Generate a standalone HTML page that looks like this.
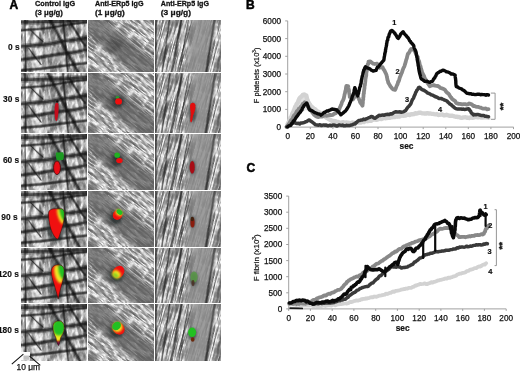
<!DOCTYPE html>
<html><head><meta charset="utf-8"><style>
html,body{margin:0;padding:0;background:#fff;width:520px;height:371px;overflow:hidden}
svg{display:block}
text{font-family:'Liberation Sans',Arial,sans-serif}
.tk{font-size:8.2px;fill:#111;stroke:#111;stroke-width:0.25px}
.sec{font-size:8.4px;font-weight:bold;fill:#111;stroke:#111;stroke-width:0.2px}
.yl{font-size:8px;fill:#111;stroke:#111;stroke-width:0.2px}
.cl{font-size:7.4px;font-weight:bold;fill:#111;stroke:#111;stroke-width:0.2px}
.st{font-size:9.5px;font-weight:bold;fill:#111;stroke:#111;stroke-width:0.3px}
.big{font-size:12px;font-weight:bold;fill:#000;stroke:#000;stroke-width:0.5px}
.hd{font-size:8px;font-weight:bold;fill:#111;stroke:#111;stroke-width:0.3px}
.rl{font-size:8.4px;font-weight:bold;fill:#111;stroke:#111;stroke-width:0.15px}
.sb{font-size:8.4px;fill:#111;stroke:#111;stroke-width:0.25px}
</style></head><body>
<svg width="520" height="371" viewBox="0 0 520 371">
<defs><filter id="f1a" x="-20" y="-20" width="110" height="110" filterUnits="userSpaceOnUse" color-interpolation-filters="sRGB">
  <feTurbulence type="turbulence" baseFrequency="0.16 0.05" numOctaves="3" seed="7" result="n"/>
  <feColorMatrix in="n" type="matrix" values="1 0 0 0 0  1 0 0 0 0  1 0 0 0 0  0 0 0 0 1" result="g"/>
  <feComponentTransfer in="g"><feFuncR type="table" tableValues="1 1 0.86 0.64 0.47 0.37 0.3 0.26 0.22 0.2 0.2"/><feFuncG type="table" tableValues="1 1 0.86 0.64 0.47 0.37 0.3 0.26 0.22 0.2 0.2"/><feFuncB type="table" tableValues="1 1 0.86 0.64 0.47 0.37 0.3 0.26 0.22 0.2 0.2"/></feComponentTransfer>
</filter><filter id="f1b" x="-20" y="-20" width="110" height="110" filterUnits="userSpaceOnUse" color-interpolation-filters="sRGB">
  <feTurbulence type="turbulence" baseFrequency="0.16 0.05" numOctaves="3" seed="21" result="n"/>
  <feColorMatrix in="n" type="matrix" values="1 0 0 0 0  1 0 0 0 0  1 0 0 0 0  0 0 0 0 1" result="g"/>
  <feComponentTransfer in="g"><feFuncR type="table" tableValues="1 1 0.86 0.64 0.47 0.37 0.3 0.26 0.22 0.2 0.2"/><feFuncG type="table" tableValues="1 1 0.86 0.64 0.47 0.37 0.3 0.26 0.22 0.2 0.2"/><feFuncB type="table" tableValues="1 1 0.86 0.64 0.47 0.37 0.3 0.26 0.22 0.2 0.2"/></feComponentTransfer>
</filter><filter id="f2" x="-20" y="-20" width="110" height="110" filterUnits="userSpaceOnUse" color-interpolation-filters="sRGB">
  <feTurbulence type="turbulence" baseFrequency="0.06 0.38" numOctaves="3" seed="3" result="n"/>
  <feColorMatrix in="n" type="matrix" values="1 0 0 0 0  1 0 0 0 0  1 0 0 0 0  0 0 0 0 1" result="g"/>
  <feComponentTransfer in="g"><feFuncR type="table" tableValues="1 0.95 0.8 0.64 0.53 0.46 0.41 0.37 0.34 0.3 0.3"/><feFuncG type="table" tableValues="1 0.95 0.8 0.64 0.53 0.46 0.41 0.37 0.34 0.3 0.3"/><feFuncB type="table" tableValues="1 0.95 0.8 0.64 0.53 0.46 0.41 0.37 0.34 0.3 0.3"/></feComponentTransfer>
</filter><filter id="f3" x="-20" y="-20" width="110" height="110" filterUnits="userSpaceOnUse" color-interpolation-filters="sRGB">
  <feTurbulence type="turbulence" baseFrequency="0.75 0.035" numOctaves="4" seed="11" result="n"/>
  <feColorMatrix in="n" type="matrix" values="1 0 0 0 0  1 0 0 0 0  1 0 0 0 0  0 0 0 0 1" result="g"/>
  <feComponentTransfer in="g"><feFuncR type="table" tableValues="1 0.97 0.84 0.68 0.55 0.46 0.39 0.33 0.28 0.25 0.25"/><feFuncG type="table" tableValues="1 0.97 0.84 0.68 0.55 0.46 0.39 0.33 0.28 0.25 0.25"/><feFuncB type="table" tableValues="1 0.97 0.84 0.68 0.55 0.46 0.39 0.33 0.28 0.25 0.25"/></feComponentTransfer>
</filter>
<filter id="bl1" x="-20" y="-20" width="110" height="110" filterUnits="userSpaceOnUse"><feGaussianBlur stdDeviation="2.2"/></filter>
<filter id="bl2" x="-20" y="-20" width="110" height="110" filterUnits="userSpaceOnUse"><feGaussianBlur stdDeviation="4"/></filter>
<filter id="bb" x="-50%" y="-50%" width="200%" height="200%"><feGaussianBlur stdDeviation="0.6"/></filter>

<g id="s1">
  <g transform="rotate(-8 33 30)"><rect x="-20" y="-20" width="110" height="110" filter="url(#f1a)"/></g>
  <g transform="rotate(24 33 30)" opacity="0.4"><rect x="-20" y="-20" width="110" height="110" filter="url(#f1b)"/></g>
  <ellipse cx="35" cy="28" rx="8" ry="22" fill="#888" opacity="0.35" filter="url(#bl2)"/>
  <g fill="none" stroke-linecap="round"><path d="M-2,3.5 C10,4.5 20,2.5 32,3 S55,1.5 70,1.5" stroke="#101010" stroke-width="5.85" opacity="0.32"/><path d="M-2,3.5 C10,4.5 20,2.5 32,3 S55,1.5 70,1.5" stroke="#101010" stroke-width="2.93" opacity="0.60"/><path d="M-2,12 C12,10.5 22,11 34,8.5 S55,5 70,3.5" stroke="#101010" stroke-width="3.34" opacity="0.32"/><path d="M-2,12 C12,10.5 22,11 34,8.5 S55,5 70,3.5" stroke="#101010" stroke-width="1.67" opacity="0.60"/><path d="M-2,28 C8,27.5 16,26.5 24,26 S40,22.5 48,22 S62,19.5 70,19" stroke="#101010" stroke-width="5.02" opacity="0.32"/><path d="M-2,28 C8,27.5 16,26.5 24,26 S40,22.5 48,22 S62,19.5 70,19" stroke="#101010" stroke-width="2.51" opacity="0.60"/><path d="M-2,41.5 C8,40 16,39.5 24,38 S40,35 48,34.5 S62,31.5 70,30.5" stroke="#101010" stroke-width="4.60" opacity="0.32"/><path d="M-2,41.5 C8,40 16,39.5 24,38 S40,35 48,34.5 S62,31.5 70,30.5" stroke="#101010" stroke-width="2.30" opacity="0.60"/><path d="M-2,52 C10,51 20,50.5 30,49 S52,46 70,44" stroke="#101010" stroke-width="3.76" opacity="0.32"/><path d="M-2,52 C10,51 20,50.5 30,49 S52,46 70,44" stroke="#101010" stroke-width="1.88" opacity="0.60"/><path d="M27,-2 C33,8 36,14 40,22 S48,38 54,48 C57,53 60,58 62,62" stroke="#101010" stroke-width="4.18" opacity="0.32"/><path d="M27,-2 C33,8 36,14 40,22 S48,38 54,48 C57,53 60,58 62,62" stroke="#101010" stroke-width="2.09" opacity="0.60"/><path d="M49,3 C52,9 56,14 58,18 S62,24 64,27" stroke="#101010" stroke-width="2.93" opacity="0.32"/><path d="M49,3 C52,9 56,14 58,18 S62,24 64,27" stroke="#101010" stroke-width="1.46" opacity="0.60"/><path d="M4,-2 C4,20 4.5,40 5,62" stroke="#101010" stroke-width="1.46" opacity="0.32"/><path d="M4,-2 C4,20 4.5,40 5,62" stroke="#101010" stroke-width="0.73" opacity="0.60"/><path d="M42,-2 C43,15 45,30 46,45 C46.5,52 47,56 48,62" stroke="#101010" stroke-width="2.51" opacity="0.32"/><path d="M42,-2 C43,15 45,30 46,45 C46.5,52 47,56 48,62" stroke="#101010" stroke-width="1.25" opacity="0.60"/><path d="M8,30 C12,36 16,41 20,46" stroke="#101010" stroke-width="1.88" opacity="0.32"/><path d="M8,30 C12,36 16,41 20,46" stroke="#101010" stroke-width="0.94" opacity="0.60"/><path d="M10,12 C14,16 18,20 22,23" stroke="#101010" stroke-width="1.88" opacity="0.32"/><path d="M10,12 C14,16 18,20 22,23" stroke="#101010" stroke-width="0.94" opacity="0.60"/></g>
</g>

<g id="s2">
  <g transform="rotate(38 33 30)"><rect x="-20" y="-20" width="110" height="110" filter="url(#f2)"/></g>
  <path d="M-8,-20 L72,46 L72,70 L60,68 L-8,9 Z" fill="#5e5e5e" opacity="0.7" filter="url(#bl1)"/>
  <ellipse cx="27" cy="27" rx="9" ry="6" fill="#2a2a2a" opacity="0.55" filter="url(#bl2)" transform="rotate(38 27 27)"/>
  <path d="M20,4 L64,40" stroke="#e8e8e8" stroke-width="0.9" opacity="0.55"/>
</g>

<g id="s3">
  <g transform="rotate(15 33 30)"><rect x="-20" y="-20" width="110" height="110" filter="url(#f3)"/></g>
  <path d="M38,-5 L60,-5 L51,65 L29,65 Z" fill="#8e8e8e" opacity="0.85" filter="url(#bl1)"/>
  <g fill="none" stroke-linecap="round"><path d="M15,62 L27,-2" stroke="#1a1a1a" stroke-width="3.37" opacity="0.27"/><path d="M15,62 L27,-2" stroke="#1a1a1a" stroke-width="1.68" opacity="0.51"/><path d="M6,62 L15,-2" stroke="#1a1a1a" stroke-width="2.24" opacity="0.27"/><path d="M6,62 L15,-2" stroke="#1a1a1a" stroke-width="1.12" opacity="0.51"/><path d="M23,62 L34,-2" stroke="#1a1a1a" stroke-width="1.87" opacity="0.27"/><path d="M23,62 L34,-2" stroke="#1a1a1a" stroke-width="0.94" opacity="0.51"/><path d="M50,62 L60,-2" stroke="#1a1a1a" stroke-width="3.37" opacity="0.27"/><path d="M50,62 L60,-2" stroke="#1a1a1a" stroke-width="1.68" opacity="0.51"/><path d="M0.8,-2 L0.8,62" stroke="#1a1a1a" stroke-width="3.37" opacity="0.27"/><path d="M0.8,-2 L0.8,62" stroke="#1a1a1a" stroke-width="1.68" opacity="0.51"/></g>
  <path d="M20,62 L31,-2" stroke="#f0f0f0" stroke-width="2.2" opacity="0.35"/>
</g>
</defs>
<rect width="520" height="371" fill="#fff"/>
<svg x="21" y="20" width="66" height="52" viewBox="0 1.5 66 52" overflow="hidden"><use href="#s1"/></svg>
<svg x="21" y="73" width="66" height="60" viewBox="0 -3 66 60" overflow="hidden"><use href="#s1"/></svg>
<svg x="21" y="134" width="66" height="56" viewBox="0 0 66 56" overflow="hidden"><use href="#s1"/></svg>
<svg x="21" y="191" width="66" height="56" viewBox="0 0 66 56" overflow="hidden"><use href="#s1"/></svg>
<svg x="21" y="248" width="66" height="55" viewBox="0 0 66 55" overflow="hidden"><use href="#s1"/></svg>
<svg x="21" y="304" width="66" height="57" viewBox="0 0 66 57" overflow="hidden"><use href="#s1"/></svg>
<svg x="88" y="20" width="66" height="52" viewBox="0 1.5 66 52" overflow="hidden"><use href="#s2"/></svg>
<svg x="88" y="73" width="66" height="60" viewBox="0 -3 66 60" overflow="hidden"><use href="#s2"/></svg>
<svg x="88" y="134" width="66" height="56" viewBox="0 0 66 56" overflow="hidden"><use href="#s2"/></svg>
<svg x="88" y="191" width="66" height="56" viewBox="0 0 66 56" overflow="hidden"><use href="#s2"/></svg>
<svg x="88" y="248" width="66" height="55" viewBox="0 0 66 55" overflow="hidden"><use href="#s2"/></svg>
<svg x="88" y="304" width="66" height="57" viewBox="0 0 66 57" overflow="hidden"><use href="#s2"/></svg>
<svg x="155" y="20" width="66" height="52" viewBox="0 1.5 66 52" overflow="hidden"><use href="#s3"/></svg>
<svg x="155" y="73" width="66" height="60" viewBox="0 -3 66 60" overflow="hidden"><use href="#s3"/></svg>
<svg x="155" y="134" width="66" height="56" viewBox="0 0 66 56" overflow="hidden"><use href="#s3"/></svg>
<svg x="155" y="191" width="66" height="56" viewBox="0 0 66 56" overflow="hidden"><use href="#s3"/></svg>
<svg x="155" y="248" width="66" height="55" viewBox="0 0 66 55" overflow="hidden"><use href="#s3"/></svg>
<svg x="155" y="304" width="66" height="57" viewBox="0 0 66 57" overflow="hidden"><use href="#s3"/></svg>

<defs>
<filter id="bs" x="-50%" y="-50%" width="200%" height="200%"><feGaussianBlur stdDeviation="1.6"/></filter>
<filter id="bm" x="-50%" y="-50%" width="200%" height="200%"><feGaussianBlur stdDeviation="1.1"/></filter>
</defs>
<!-- shadows -->
<g filter="url(#bs)" fill="#1c2828" opacity="0.62">
<ellipse cx="56.5" cy="111.5" rx="4" ry="10"/>
<ellipse cx="57.5" cy="162" rx="6" ry="12"/>
<ellipse cx="56" cy="224" rx="10" ry="17"/>
<ellipse cx="57.5" cy="280" rx="8" ry="19"/>
<ellipse cx="58" cy="332" rx="7" ry="13"/>
<ellipse cx="118.3" cy="101.5" rx="6" ry="6"/>
<ellipse cx="117" cy="160" rx="5" ry="6"/>
<ellipse cx="116" cy="218" rx="6" ry="6"/>
<ellipse cx="117" cy="275" rx="7" ry="7"/>
<ellipse cx="117" cy="331" rx="7" ry="7"/>
<ellipse cx="192.5" cy="112" rx="4" ry="10"/>
<ellipse cx="192.2" cy="167" rx="3.5" ry="7"/>
<ellipse cx="192.5" cy="222" rx="3" ry="6"/>
<ellipse cx="193.5" cy="279" rx="4" ry="7"/>
<ellipse cx="192.3" cy="334" rx="4.5" ry="6"/>
</g>
<clipPath id="cb90"><path d="M48.5,214 C48.5,210 51,209 55,208.8 L62,208.8 C64,209.5 64.6,212 64.3,216 C64,222 62,229 60,234 C59,237.5 58,239.5 57,239 C54.5,237.5 51.5,232 50,226 C49,222 48.5,218 48.5,214 Z"/></clipPath><g clip-path="url(#cb90)"><rect x="40" y="200" width="30" height="45" fill="#f01010"/>
<ellipse cx="60.6" cy="216" rx="2.6" ry="8.5" fill="#f0e820" transform="rotate(-18 60.6 216)" filter="url(#bm)"/>
<ellipse cx="63.4" cy="213.5" rx="3.2" ry="8" fill="#22c020" transform="rotate(-18 63.4 213.5)" filter="url(#bm)"/></g><path d="M48.5,214 C48.5,210 51,209 55,208.8 L62,208.8 C64,209.5 64.6,212 64.3,216 C64,222 62,229 60,234 C59,237.5 58,239.5 57,239 C54.5,237.5 51.5,232 50,226 C49,222 48.5,218 48.5,214 Z" fill="none" stroke="#2a0808" stroke-width="0.9" opacity="0.55"/>
<clipPath id="cb120"><path d="M51.3,272 C51.3,267 54,265 57.5,264.8 C61,264.6 64.2,266 64.2,271 C64.2,276 62.5,282 61,287 C60,291 59,295 58.2,299 C57.2,295 55.5,289 54,284 C52.5,279 51.3,275 51.3,272 Z"/></clipPath><g clip-path="url(#cb120)"><rect x="40" y="255" width="30" height="50" fill="#f01010"/>
<ellipse cx="58.6" cy="274" rx="4" ry="9.5" fill="#f0e820" transform="rotate(-15 58.6 274)" filter="url(#bm)"/>
<ellipse cx="62.6" cy="271.5" rx="3.8" ry="8.5" fill="#22c020" transform="rotate(-15 62.6 271.5)" filter="url(#bm)"/></g><path d="M51.3,272 C51.3,267 54,265 57.5,264.8 C61,264.6 64.2,266 64.2,271 C64.2,276 62.5,282 61,287 C60,291 59,295 58.2,299 C57.2,295 55.5,289 54,284 C52.5,279 51.3,275 51.3,272 Z" fill="none" stroke="#2a0808" stroke-width="0.9" opacity="0.55"/>
<clipPath id="cb180"><path d="M53,327 C53,322.5 56,321 59,321 C62.5,321 64.4,324 64.2,328.5 C64,332 62,335 60.5,338 C60,341 59.5,344 58.5,345.5 C57.5,344 56.5,341 56,338 C54.5,335 53,331 53,327 Z"/></clipPath><g clip-path="url(#cb180)"><rect x="40" y="315" width="30" height="35" fill="#c01818"/>
<rect x="40" y="315" width="30" height="26" fill="#f0e820" filter="url(#bm)"/>
<ellipse cx="59" cy="327.5" rx="6.5" ry="8" fill="#22c020" filter="url(#bm)"/>
<rect x="40" y="342" width="30" height="6" fill="#601050" filter="url(#bm)"/></g><path d="M53,327 C53,322.5 56,321 59,321 C62.5,321 64.4,324 64.2,328.5 C64,332 62,335 60.5,338 C60,341 59.5,344 58.5,345.5 C57.5,344 56.5,341 56,338 C54.5,335 53,331 53,327 Z" fill="none" stroke="#2a0808" stroke-width="0.9" opacity="0.55"/>
<g filter="url(#bb)">
<!-- col1 row2 30s -->
<path d="M55.3,104 C56.5,101.5 58.5,102 58.6,106 C58.8,110 58.3,116 57.2,120 C56.5,122 55.3,121 55,118 C54.5,113 54.3,107 55.3,104 Z" fill="#c40e1e"/>
<circle cx="57.2" cy="101.5" r="1.2" fill="#101010"/>
<!-- col1 row3 60s -->
<path d="M56,152.5 L63,152.2 C64.2,154 64.2,158 63,160 L57,160.5 C55.8,158 55.6,154 56,152.5 Z" fill="#1f9a22"/>
<ellipse cx="57" cy="167.8" rx="3.4" ry="6.8" fill="#e81018" stroke="#500808" stroke-width="0.8"/>
<!-- col2 row2 30s -->
<ellipse cx="117.4" cy="97.4" rx="1.8" ry="1.4" fill="#2a9a30"/>
<ellipse cx="118.6" cy="101.4" rx="3.4" ry="3.2" fill="#f01010"/>
<!-- col2 row3 60s -->
<ellipse cx="117.2" cy="155.2" rx="2.8" ry="2.6" fill="#20b020"/>
<ellipse cx="119.4" cy="160.6" rx="3.2" ry="2.6" fill="#f01010"/>
<!-- col2 row4 90s -->
<g transform="rotate(35 117.7 214.7)">
<ellipse cx="117.7" cy="214.9" rx="4.6" ry="5.2" fill="#f01010"/>
<ellipse cx="117.7" cy="212.3" rx="3.6" ry="2.8" fill="#f0e820" filter="url(#bm)"/>
<ellipse cx="117.7" cy="211.6" rx="3.2" ry="2.3" fill="#22c020"/>
</g>
<!-- col2 row5 120s -->
<g transform="rotate(-50 118.5 272)">
<ellipse cx="118.5" cy="272" rx="6.6" ry="5.4" fill="#f01010"/>
<ellipse cx="115.5" cy="272" rx="3.6" ry="4.4" fill="#f0e820" filter="url(#bm)"/>
<ellipse cx="114" cy="272" rx="1.8" ry="3.2" fill="#80d020" filter="url(#bm)"/>
</g>
<!-- col2 row6 180s -->
<g transform="rotate(-40 118.5 328.3)">
<ellipse cx="118.5" cy="328.3" rx="5.6" ry="6.8" fill="#f01010"/>
<ellipse cx="118.5" cy="326.8" rx="5" ry="5" fill="#f0e820" filter="url(#bm)"/>
<ellipse cx="118.5" cy="325.3" rx="4.8" ry="3.8" fill="#22c020"/>
</g>
<!-- col3 row2 30s -->
<path d="M190,106 C190,102 195.5,101.5 195.5,106 C195.5,110 194,113 193,116 C192.5,119 192,122.5 191,122.5 C189.5,121 190.5,117 190.8,114 C190.5,111 190,108.5 190,106 Z" fill="#e01010"/>
<!-- col3 row3 60s -->
<ellipse cx="192.2" cy="167.2" rx="2.5" ry="6.3" fill="#a80c14"/>
<!-- col3 row4 90s -->
<ellipse cx="192.5" cy="222.5" rx="2.1" ry="5" fill="#8a1c10"/>
<ellipse cx="192.3" cy="219" rx="1.6" ry="2.2" fill="#402010"/>
<!-- col3 row5 120s -->
<ellipse cx="194" cy="277" rx="3.6" ry="5.5" fill="#5a9a48" opacity="0.85"/>
<ellipse cx="193" cy="283" rx="1.5" ry="3" fill="#4a2a20" opacity="0.8"/>
<!-- col3 row6 180s -->
<ellipse cx="192.1" cy="332.3" rx="4" ry="4.8" fill="#22c020"/>
<ellipse cx="192.7" cy="339.5" rx="1.8" ry="2.2" fill="#6a2a10"/>
</g>

<text x="9.6" y="8.7" class="big">A</text>
<text x="246" y="9" class="big">B</text>
<text x="246.6" y="172" class="big">C</text>
<text x="35" y="5.8" class="hd" textLength="40.2" lengthAdjust="spacingAndGlyphs">Control IgG</text>
<text x="35" y="14.6" class="hd" textLength="27.9" lengthAdjust="spacingAndGlyphs">(3 μg/g)</text>
<text x="95" y="5.8" class="hd" textLength="48.5" lengthAdjust="spacingAndGlyphs">Anti-ERp5 IgG</text>
<text x="95" y="14.6" class="hd" textLength="29.7" lengthAdjust="spacingAndGlyphs">(1 μg/g)</text>
<text x="160.8" y="5.8" class="hd" textLength="48.2" lengthAdjust="spacingAndGlyphs">Anti-ERp5 IgG</text>
<text x="160.8" y="14.6" class="hd" textLength="30.2" lengthAdjust="spacingAndGlyphs">(3 μg/g)</text>
<text x="19.6" y="49.9" text-anchor="end" class="rl">0 s</text>
<text x="19.4" y="101.9" text-anchor="end" class="rl">30 s</text>
<text x="19.2" y="163.0" text-anchor="end" class="rl">60 s</text>
<text x="17.6" y="219.8" text-anchor="end" class="rl">90 s</text>
<text x="18.9" y="276.9" text-anchor="end" class="rl">120 s</text>
<text x="18.9" y="333.29999999999995" text-anchor="end" class="rl">180 s</text>
<rect x="21" y="352" width="9" height="8.6" fill="#fbfbfb"/><rect x="23.5" y="355.6" width="6" height="4.2" fill="#a8a8a8" opacity="0.7"/>
<path d="M11.8,364.2 L23.4,354.2 M29.5,356.2 L40.3,365.4" stroke="#111" stroke-width="1.1" fill="none"/>
<text x="16.5" y="369.6" class="sb">10 μm</text>
<line x1="287.7" y1="20.9" x2="287.7" y2="127.5" stroke="#a0a0a0" stroke-width="1"/>
<line x1="287.7" y1="127.1" x2="513.6" y2="127.1" stroke="#a0a0a0" stroke-width="1"/>
<line x1="285.2" y1="127.1" x2="287.7" y2="127.1" stroke="#a0a0a0" stroke-width="1"/>
<text x="281.0" y="130.0" text-anchor="end" class="tk">0</text>
<line x1="285.2" y1="109.4" x2="287.7" y2="109.4" stroke="#a0a0a0" stroke-width="1"/>
<text x="281.0" y="112.3" text-anchor="end" class="tk">1000</text>
<line x1="285.2" y1="91.7" x2="287.7" y2="91.7" stroke="#a0a0a0" stroke-width="1"/>
<text x="281.0" y="94.6" text-anchor="end" class="tk">2000</text>
<line x1="285.2" y1="74.0" x2="287.7" y2="74.0" stroke="#a0a0a0" stroke-width="1"/>
<text x="281.0" y="76.9" text-anchor="end" class="tk">3000</text>
<line x1="285.2" y1="56.3" x2="287.7" y2="56.3" stroke="#a0a0a0" stroke-width="1"/>
<text x="281.0" y="59.2" text-anchor="end" class="tk">4000</text>
<line x1="285.2" y1="38.6" x2="287.7" y2="38.6" stroke="#a0a0a0" stroke-width="1"/>
<text x="281.0" y="41.5" text-anchor="end" class="tk">5000</text>
<line x1="285.2" y1="20.9" x2="287.7" y2="20.9" stroke="#a0a0a0" stroke-width="1"/>
<text x="281.0" y="23.8" text-anchor="end" class="tk">6000</text>
<line x1="287.7" y1="127.1" x2="287.7" y2="129.1" stroke="#a0a0a0" stroke-width="1"/>
<text x="287.7" y="139.1" text-anchor="middle" class="tk">0</text>
<line x1="310.3" y1="127.1" x2="310.3" y2="129.1" stroke="#a0a0a0" stroke-width="1"/>
<text x="310.3" y="139.1" text-anchor="middle" class="tk">20</text>
<line x1="332.9" y1="127.1" x2="332.9" y2="129.1" stroke="#a0a0a0" stroke-width="1"/>
<text x="332.9" y="139.1" text-anchor="middle" class="tk">40</text>
<line x1="355.4" y1="127.1" x2="355.4" y2="129.1" stroke="#a0a0a0" stroke-width="1"/>
<text x="355.4" y="139.1" text-anchor="middle" class="tk">60</text>
<line x1="378.0" y1="127.1" x2="378.0" y2="129.1" stroke="#a0a0a0" stroke-width="1"/>
<text x="378.0" y="139.1" text-anchor="middle" class="tk">80</text>
<line x1="400.6" y1="127.1" x2="400.6" y2="129.1" stroke="#a0a0a0" stroke-width="1"/>
<text x="400.6" y="139.1" text-anchor="middle" class="tk">100</text>
<line x1="423.2" y1="127.1" x2="423.2" y2="129.1" stroke="#a0a0a0" stroke-width="1"/>
<text x="423.2" y="139.1" text-anchor="middle" class="tk">120</text>
<line x1="445.8" y1="127.1" x2="445.8" y2="129.1" stroke="#a0a0a0" stroke-width="1"/>
<text x="445.8" y="139.1" text-anchor="middle" class="tk">140</text>
<line x1="468.3" y1="127.1" x2="468.3" y2="129.1" stroke="#a0a0a0" stroke-width="1"/>
<text x="468.3" y="139.1" text-anchor="middle" class="tk">160</text>
<line x1="490.9" y1="127.1" x2="490.9" y2="129.1" stroke="#a0a0a0" stroke-width="1"/>
<text x="490.9" y="139.1" text-anchor="middle" class="tk">180</text>
<line x1="513.5" y1="127.1" x2="513.5" y2="129.1" stroke="#a0a0a0" stroke-width="1"/>
<text x="513.5" y="139.1" text-anchor="middle" class="tk">200</text>
<text x="406.5" y="148.8" text-anchor="middle" class="sec">sec</text>
<text transform="translate(256.0,75.4) rotate(-90)" x="0" y="2.8" text-anchor="middle" class="yl" textLength="55.5" lengthAdjust="spacingAndGlyphs">F platelets (x10<tspan dy="-2.5" font-size="5">3</tspan><tspan dy="2.5">)</tspan></text>
<polygon points="288,125 292,112 297,101 301,94 305,92 308,96 311,103 316,108 322,113 318,117 311,113 306,110 301,112 296,117 291,124" fill="#e2e2e2"/>
<polyline points="287.3,124.7 287.9,123.6 288.3,122.6 289.1,121.7 289.6,120.0 290.1,118.8 290.5,117.5 291.0,117.0 291.7,115.7 292.2,113.9 292.6,113.1 293.3,112.1 293.9,110.2 294.3,109.5 294.8,107.8 295.4,106.5 296.0,106.0 296.5,104.3 297.2,103.3 297.9,102.4 298.4,100.8 299.0,99.6 299.5,98.2 300.6,97.1 301.3,96.7 302.2,95.7 303.2,94.6 304.9,95.0 306.3,95.6 306.6,96.9 306.9,98.6 307.2,99.6 307.6,100.4 308.1,101.8 309.1,103.4 309.7,104.3 310.4,105.7 311.5,106.8 312.9,107.9 313.9,108.8 314.9,109.1 316.1,110.3 317.0,111.2 318.0,111.8 318.9,112.0 320.0,112.7 321.0,114.2 322.0,114.2 322.9,115.1 324.1,116.1 324.9,116.6 326.4,117.7 327.4,118.1 328.6,119.0 330.0,119.7 331.1,120.3 332.5,121.1 333.7,121.0 335.2,121.2 336.5,121.6 337.6,121.9 338.8,122.2 340.1,122.7 341.5,122.5 342.5,122.3 343.8,122.3 345.0,123.0 346.2,122.4 347.6,122.9 348.9,122.8 350.1,123.1 351.3,123.1 352.5,122.5 353.7,123.1 355.1,123.0 356.2,122.7 357.6,122.6 358.8,122.4 360.0,122.5 361.2,122.5 362.6,121.5 363.9,122.1 365.1,121.0 366.4,120.9 367.7,121.2 368.7,120.5 370.1,120.7 371.4,120.8 372.5,119.7 373.9,119.5 375.2,119.4 376.4,119.8 377.7,119.4 378.9,118.9 380.1,118.8 381.5,119.0 382.6,118.5 383.7,117.9 385.1,118.2 386.4,118.1 387.5,117.8 388.9,117.8 389.9,117.9 391.4,117.1 392.5,117.2 393.8,117.0 394.9,117.0 396.3,116.4 397.3,116.7 398.7,116.4 399.8,116.5 401.1,115.5 402.4,115.5 403.4,115.8 404.7,115.6 405.9,115.5 407.2,114.7 408.6,114.7 409.9,115.0 411.3,114.1 412.5,114.2 413.9,114.1 415.2,113.2 416.5,113.5 417.9,113.2 419.4,112.7 420.7,112.8 421.9,113.3 423.3,113.4 424.6,113.5 426.1,113.5 427.4,113.2 428.8,113.5 430.1,113.5 431.3,113.7 432.9,113.9 434.3,114.2 435.5,114.4 436.9,114.2 438.2,115.0 439.5,114.9 440.9,114.6 442.2,114.4 443.8,115.2 445.1,115.3 446.5,114.8 447.8,115.2 449.2,115.7 450.7,115.8 451.9,115.6 453.2,116.0 454.4,116.4 455.5,116.7 456.7,116.7 458.0,117.1 459.0,117.0 460.2,117.6 461.7,117.9 462.9,117.5 464.3,117.4 465.6,117.2 466.9,117.7 468.4,117.8 469.6,118.0 471.0,117.1 472.2,117.7 473.8,117.5 475.1,116.9 476.3,116.7 477.5,117.4 478.9,117.3 479.9,116.9 481.2,117.6 482.4,117.6 483.7,117.4 485.0,117.2 486.1,117.2 487.2,117.2 488.5,117.7" fill="none" stroke="#d2d2d2" stroke-width="4.4" stroke-linejoin="round" stroke-linecap="round"/>
<polyline points="286.4,127.0 287.6,126.1 288.8,124.5 289.8,124.2 291.0,123.4 292.4,123.3 293.6,123.0 294.7,122.4 296.0,123.3 297.2,123.5 298.4,123.2 299.7,124.0 300.7,123.0 302.1,122.9 303.3,122.8 304.5,122.4 305.6,121.8 306.8,121.5 308.2,120.3 309.2,119.9 310.6,121.0 311.7,121.7 312.9,122.6 314.2,123.6 315.6,124.8 317.1,125.0 318.6,125.2 320.0,124.7 321.3,125.5 322.6,125.2 323.8,124.9 325.1,125.3 326.2,124.9 327.6,125.8 328.6,125.7 330.0,125.2 331.2,125.7 332.6,125.1 333.8,125.1 335.1,125.3 336.4,125.9 337.5,125.9 338.7,125.1 340.0,125.1 341.2,125.4 342.5,125.1 343.6,125.8 344.9,125.8 346.4,125.3 347.5,125.4 348.8,125.4 350.0,125.4 351.4,125.0 352.5,124.8 353.7,124.1 355.1,124.0 355.9,122.7 356.8,122.3 357.6,121.4 358.9,120.5 360.0,120.4 361.3,120.0 362.6,120.0 363.6,119.1 365.0,119.6 366.2,118.8 367.5,118.3 368.7,117.7 370.0,117.3 371.2,116.5 372.6,116.8 373.9,118.1 375.0,118.3 376.4,117.3 377.5,116.6 379.0,115.3 380.1,115.4 381.5,115.3 382.7,114.9 383.9,115.2 385.3,114.8 386.3,114.4 387.8,114.2 389.3,114.6 390.5,113.8 392.1,113.9 393.3,113.0 394.4,112.3 395.9,111.7 397.1,111.9 398.5,112.0 400.0,111.8 401.0,112.3 402.4,112.1 403.5,111.9 404.8,111.0 405.6,110.7 406.4,109.4 407.1,108.3 407.9,107.1 408.8,106.4 409.7,105.2 410.3,104.6 410.9,103.6 411.4,102.2 411.8,101.2 412.4,99.6 413.1,98.7 413.6,97.9 414.2,96.1 414.6,95.4 415.2,94.1 415.7,92.4 416.3,91.7 416.7,90.5 417.7,89.4 418.6,87.6 419.3,87.3 420.4,88.0 421.6,89.4 422.8,90.0 424.1,90.3 425.0,91.0 426.2,91.7 427.5,93.0 428.6,93.3 429.9,93.8 431.2,94.8 432.5,95.1 433.7,95.7 434.9,96.5 436.3,97.0 437.4,97.4 438.7,98.4 441.1,98.4 442.4,99.1 443.5,99.4 444.8,100.2 446.1,100.7 447.1,101.1 448.1,102.4 449.0,103.0 450.1,104.2 451.2,104.6 452.2,105.9 453.1,106.3 454.0,107.4 455.2,108.2 456.3,108.8 457.5,108.9 458.5,109.1 459.7,108.9 461.1,109.0 462.1,109.2 463.5,109.1 464.5,109.5 465.8,109.3 467.1,109.1 468.4,108.7 469.1,109.2 469.9,110.6 470.6,111.2 471.4,113.0 472.2,113.5 473.4,115.0 474.6,114.4 475.8,114.8 477.2,114.6 478.4,114.6 479.7,115.0 481.0,115.4 482.6,115.6 483.8,115.6 485.0,116.3 486.1,116.3 487.3,116.6 488.5,116.7" fill="none" stroke="#3a3a3a" stroke-width="3.5" stroke-linejoin="round" stroke-linecap="round"/>
<polyline points="287.6,126.9 288.0,125.0 288.8,124.5 289.4,123.0 290.0,122.1 290.7,120.7 291.3,119.9 292.1,119.4 292.8,118.0 293.3,116.8 293.9,115.6 294.7,114.8 295.3,114.4 296.0,113.1 296.6,111.6 297.3,110.7 298.0,110.4 298.8,108.7 299.6,108.3 300.3,107.4 301.1,106.3 301.9,105.5 302.9,103.8 303.8,103.4 304.6,102.3 305.8,103.5 307.0,104.3 307.6,105.7 308.4,106.6 309.0,108.4 309.9,109.1 310.5,110.1 311.5,111.1 312.3,112.4 313.1,113.5 314.1,114.7 315.0,115.4 316.0,116.3 316.9,116.7 318.5,117.2 320.1,116.3 321.7,116.7 323.1,116.0 324.4,115.6 325.7,115.5 326.9,115.8 328.4,115.3 330.0,114.9 331.3,115.2 332.9,114.9 333.9,113.9 335.1,113.5 336.1,113.0 337.3,112.1 338.4,111.0 339.1,109.7 339.4,109.0 340.0,107.2 340.6,106.1 340.9,105.1 341.5,104.2 341.8,102.7 342.2,101.6 342.9,100.7 343.3,99.6 343.8,98.4 344.1,96.8 344.4,95.7 344.5,94.6 345.0,93.1 345.1,92.2 345.4,90.8 345.8,89.7 345.9,88.7 346.0,87.6 346.3,86.0 348.2,86.1 348.4,87.8 348.7,89.5 349.0,90.8 349.0,91.7 349.2,93.1 349.5,94.6 349.7,95.5 349.8,97.0 350.7,97.4 351.9,98.4 353.1,99.4 353.7,98.1 354.6,96.9 355.5,96.0 357.6,95.9 358.1,97.4 358.8,98.5 359.1,99.6 359.7,100.5 360.1,102.2 360.5,103.0 361.6,104.2 362.5,105.7 362.7,103.9 362.9,102.7 362.8,101.8 363.0,100.2 363.3,99.3 363.2,97.9 363.5,96.7 363.5,95.6 363.6,94.1 363.9,93.4 363.9,92.1 364.1,90.7 364.3,89.3 364.5,88.1 364.5,86.6 364.6,86.0 364.9,84.9 365.1,82.8 365.2,82.3 365.4,80.8 365.4,79.6 365.7,78.2 365.8,77.2 366.1,76.2 366.3,75.1 366.3,73.3 366.5,72.1 366.7,71.3 367.0,70.0 367.1,68.3 367.2,67.9 367.4,66.0 367.7,64.3 368.3,63.7 368.5,61.6 370.3,61.3 371.4,62.4 372.3,63.0 373.2,63.7 374.7,64.0 375.7,63.8 377.1,63.6 377.9,65.0 378.6,66.1 379.4,67.7 381.0,67.1 382.6,67.1 383.3,68.9 383.8,69.7 384.5,70.7 385.3,72.3 385.9,73.5 386.5,74.9 386.8,76.5 387.1,77.9 387.3,79.0 387.6,80.3 388.1,81.5 388.2,82.6 389.1,84.1 389.8,85.2 390.4,86.4 391.3,87.3 392.1,88.6 393.3,89.5 395.0,89.9 395.5,89.1 395.8,88.2 396.3,86.9 396.9,85.4 397.4,84.5 397.7,83.8 398.1,81.8 398.6,81.4 399.1,80.2 399.4,79.0 399.8,77.5 400.3,76.2 400.6,75.7 401.0,74.6 401.6,73.1 402.0,72.3 402.5,70.6 402.8,69.7 403.3,68.5 403.7,67.6 404.4,66.3 404.7,65.2 405.0,64.4 405.4,62.9 405.8,61.6 406.2,59.9 406.6,58.8 406.9,58.0 407.2,56.4 407.6,54.9 407.9,53.9 408.7,53.1 409.6,51.7 410.3,50.1 411.2,48.9 412.3,49.5 413.5,49.4 414.2,50.1 414.7,51.0 415.3,52.3 415.9,53.5 416.6,55.3 417.1,56.2 417.8,57.0 417.9,58.1 418.3,59.7 418.7,60.5 419.2,61.6 419.5,63.1 419.7,64.4 420.1,65.6 420.6,66.5 420.8,68.0 421.2,69.0 421.6,70.3 421.9,71.5 422.1,72.4 422.5,73.3 423.3,74.7 424.2,76.4 424.6,77.9 425.1,79.0 425.6,79.3 426.3,80.6 427.0,82.2 427.5,82.8 428.2,83.8 429.1,85.0 429.7,86.3 431.0,85.8 432.6,85.3 433.7,85.1 435.1,85.6 436.5,85.8 437.8,86.0 439.3,86.9 440.5,88.0 441.8,88.3 444.1,89.3 445.1,90.1 446.1,91.7 447.0,92.6 448.1,93.3 449.0,94.3 449.7,95.5 450.5,96.8 451.3,97.6 452.1,98.9 453.3,99.8 454.1,100.4 455.2,101.1 456.1,102.9 457.3,103.4 458.7,103.9 459.8,103.8 461.3,104.1 462.4,104.4 463.7,104.2 465.1,104.1 466.4,104.6 467.7,104.4 469.2,103.5 470.7,103.9 472.0,104.5 473.3,106.0 474.7,106.0 475.8,106.7 476.9,106.8 478.1,106.9 479.3,107.3 480.6,107.6 481.9,108.2 483.3,108.7 484.6,108.6 485.9,108.5 487.1,109.3 488.5,109.2" fill="none" stroke="#888888" stroke-width="3.8" stroke-linejoin="round" stroke-linecap="round"/>
<polyline points="287.4,126.8 288.7,125.8 289.8,125.5 291.0,125.3 291.6,123.5 292.6,122.7 293.3,121.2 294.0,120.7 294.8,119.7 295.9,117.7 296.5,116.9 297.6,115.6 298.3,114.5 299.2,113.2 300.2,112.3 301.0,110.9 301.9,110.0 302.5,108.0 303.3,107.0 304.1,105.4 305.1,104.7 306.8,103.0 307.4,104.6 307.8,105.6 308.2,107.1 308.8,108.3 309.7,109.9 310.8,110.4 311.8,110.7 313.2,111.5 314.2,112.3 315.5,112.9 316.5,113.1 317.7,113.9 318.8,114.0 319.9,114.1 320.9,115.2 322.5,114.0 323.8,112.5 324.9,112.6 326.0,111.6 327.1,110.8 328.2,111.0 329.5,110.2 330.7,109.8 332.1,109.0 333.3,109.3 334.6,109.5 335.8,109.7 337.0,109.9 337.6,111.3 338.5,111.6 339.3,112.8 340.0,113.6 340.8,114.8 342.2,113.7 343.5,112.6 344.3,111.9 345.3,111.2 346.0,110.3 346.7,109.4 347.6,107.8 348.2,106.8 348.9,105.7 349.3,104.7 349.9,102.9 350.4,101.9 351.0,100.4 351.6,99.3 351.9,98.1 352.2,96.8 352.7,95.4 353.1,94.8 353.6,93.0 354.0,92.3 354.2,90.0 354.5,89.1 354.8,87.6 355.3,88.8 355.6,90.6 356.2,91.6 356.4,93.1 357.1,94.5 357.7,95.9 357.9,94.4 358.5,93.6 358.6,92.4 358.9,91.2 359.4,89.4 359.6,87.8 360.1,86.6 360.4,86.2 360.6,84.2 361.0,83.7 361.2,82.1 361.3,80.8 361.5,79.9 361.9,78.2 362.0,77.4 362.3,76.1 362.6,75.2 363.0,73.3 363.1,72.3 363.5,71.6 363.8,69.9 364.4,69.3 364.9,67.6 365.4,66.8 366.6,67.7 367.9,68.2 368.9,68.4 370.2,69.1 371.2,70.1 372.3,70.5 373.2,71.1 374.7,70.7 376.1,70.3 376.6,69.0 377.3,67.4 378.1,67.1 379.0,66.0 379.8,64.9 380.8,63.7 381.7,62.6 382.5,61.7 383.8,60.1 384.1,58.7 384.1,57.8 384.5,55.9 384.7,54.7 384.8,54.2 385.1,52.4 385.5,51.3 385.5,49.8 385.8,49.0 385.9,47.9 386.2,46.7 386.6,44.8 386.6,43.7 386.9,42.7 387.1,40.9 387.7,40.0 387.8,38.9 388.0,37.4 388.7,36.9 389.1,34.8 389.4,33.9 390.1,32.5 390.5,31.2 391.8,30.4 392.8,31.1 393.7,32.1 394.9,33.3 395.0,33.9 395.9,34.9 396.5,36.0 397.4,37.7 398.3,38.4 399.0,37.3 399.9,36.0 400.6,34.2 401.8,33.0 403.1,31.7 404.1,33.3 405.2,34.6 406.3,35.7 407.0,36.7 408.0,37.7 408.9,39.1 409.7,40.9 410.5,41.4 411.1,42.7 412.1,43.6 412.9,44.5 413.7,45.5 414.0,47.6 414.6,48.9 415.1,50.0 415.6,50.8 416.0,52.1 416.3,53.8 416.4,54.4 416.8,56.3 416.9,57.3 417.2,58.4 417.2,59.5 417.4,60.5 417.7,62.0 417.9,62.9 418.1,64.2 418.2,65.5 418.6,66.9 418.7,68.3 418.8,68.9 419.1,70.6 419.3,71.7 419.7,73.2 419.9,74.3 420.3,75.3 420.6,76.8 421.0,78.4 421.6,79.1 423.2,80.1 424.5,81.2 425.7,81.4 427.1,81.3 428.6,82.1 430.0,82.2 431.2,81.6 432.3,81.4 433.1,80.1 433.7,78.8 434.5,78.2 435.3,76.5 435.9,75.8 436.4,74.4 437.0,73.4 438.4,72.6 440.1,71.3 441.3,71.2 442.8,70.2 444.1,70.5 445.3,71.0 446.4,71.8 447.8,71.9 449.0,72.5 450.0,73.0 451.3,74.1 452.8,73.9 454.0,74.6 455.1,75.0 455.2,76.7 455.3,77.4 455.5,78.5 455.7,80.2 455.8,81.1 455.8,82.6 455.9,83.9 456.0,85.2 456.3,86.6 457.7,87.0 458.9,88.0 460.3,88.5 461.5,88.9 462.8,90.0 464.2,90.6 465.3,91.8 466.4,92.8 467.2,93.4 468.6,93.5 469.9,93.8 471.1,93.7 472.4,94.4 473.7,94.3 475.1,94.6 476.4,94.5 477.7,94.1 478.9,94.2 480.4,94.7 481.8,94.5 483.2,94.6 484.5,94.6 485.9,95.2 487.1,94.6 488.5,95.0" fill="none" stroke="#0a0a0a" stroke-width="3.4" stroke-linejoin="round" stroke-linecap="round"/>
<text x="394.2" y="25.0" text-anchor="middle" class="cl">1</text>
<text x="397.5" y="74.3" text-anchor="middle" class="cl">2</text>
<text x="407" y="101.5" text-anchor="middle" class="cl">3</text>
<text x="440" y="111.5" text-anchor="middle" class="cl">4</text>
<path d="M490.8,93.1 H495.1 V119.3 H490.8" fill="none" stroke="#8a8a8a" stroke-width="0.9"/>
<text transform="translate(506,106.6) rotate(-90)" x="0" y="0" text-anchor="middle" class="st">**</text>
<line x1="288.7" y1="196.1" x2="288.7" y2="309.3" stroke="#a0a0a0" stroke-width="1"/>
<line x1="288.7" y1="308.9" x2="506.2" y2="308.9" stroke="#a0a0a0" stroke-width="1"/>
<line x1="286.2" y1="308.9" x2="288.7" y2="308.9" stroke="#a0a0a0" stroke-width="1"/>
<text x="282.2" y="311.8" text-anchor="end" class="tk">0</text>
<line x1="286.2" y1="292.8" x2="288.7" y2="292.8" stroke="#a0a0a0" stroke-width="1"/>
<text x="282.2" y="295.7" text-anchor="end" class="tk">500</text>
<line x1="286.2" y1="276.7" x2="288.7" y2="276.7" stroke="#a0a0a0" stroke-width="1"/>
<text x="282.2" y="279.6" text-anchor="end" class="tk">1000</text>
<line x1="286.2" y1="260.6" x2="288.7" y2="260.6" stroke="#a0a0a0" stroke-width="1"/>
<text x="282.2" y="263.5" text-anchor="end" class="tk">1500</text>
<line x1="286.2" y1="244.5" x2="288.7" y2="244.5" stroke="#a0a0a0" stroke-width="1"/>
<text x="282.2" y="247.4" text-anchor="end" class="tk">2000</text>
<line x1="286.2" y1="228.3" x2="288.7" y2="228.3" stroke="#a0a0a0" stroke-width="1"/>
<text x="282.2" y="231.2" text-anchor="end" class="tk">2500</text>
<line x1="286.2" y1="212.2" x2="288.7" y2="212.2" stroke="#a0a0a0" stroke-width="1"/>
<text x="282.2" y="215.1" text-anchor="end" class="tk">3000</text>
<line x1="286.2" y1="196.1" x2="288.7" y2="196.1" stroke="#a0a0a0" stroke-width="1"/>
<text x="282.2" y="199.0" text-anchor="end" class="tk">3500</text>
<line x1="288.7" y1="308.9" x2="288.7" y2="310.9" stroke="#a0a0a0" stroke-width="1"/>
<text x="288.7" y="321.1" text-anchor="middle" class="tk">0</text>
<line x1="310.4" y1="308.9" x2="310.4" y2="310.9" stroke="#a0a0a0" stroke-width="1"/>
<text x="310.4" y="321.1" text-anchor="middle" class="tk">20</text>
<line x1="332.2" y1="308.9" x2="332.2" y2="310.9" stroke="#a0a0a0" stroke-width="1"/>
<text x="332.2" y="321.1" text-anchor="middle" class="tk">40</text>
<line x1="353.9" y1="308.9" x2="353.9" y2="310.9" stroke="#a0a0a0" stroke-width="1"/>
<text x="353.9" y="321.1" text-anchor="middle" class="tk">60</text>
<line x1="375.7" y1="308.9" x2="375.7" y2="310.9" stroke="#a0a0a0" stroke-width="1"/>
<text x="375.7" y="321.1" text-anchor="middle" class="tk">80</text>
<line x1="397.4" y1="308.9" x2="397.4" y2="310.9" stroke="#a0a0a0" stroke-width="1"/>
<text x="397.4" y="321.1" text-anchor="middle" class="tk">100</text>
<line x1="419.2" y1="308.9" x2="419.2" y2="310.9" stroke="#a0a0a0" stroke-width="1"/>
<text x="419.2" y="321.1" text-anchor="middle" class="tk">120</text>
<line x1="440.9" y1="308.9" x2="440.9" y2="310.9" stroke="#a0a0a0" stroke-width="1"/>
<text x="440.9" y="321.1" text-anchor="middle" class="tk">140</text>
<line x1="462.7" y1="308.9" x2="462.7" y2="310.9" stroke="#a0a0a0" stroke-width="1"/>
<text x="462.7" y="321.1" text-anchor="middle" class="tk">160</text>
<line x1="484.4" y1="308.9" x2="484.4" y2="310.9" stroke="#a0a0a0" stroke-width="1"/>
<text x="484.4" y="321.1" text-anchor="middle" class="tk">180</text>
<line x1="506.2" y1="308.9" x2="506.2" y2="310.9" stroke="#a0a0a0" stroke-width="1"/>
<text x="506.2" y="321.1" text-anchor="middle" class="tk">200</text>
<text x="402.7" y="330.5" text-anchor="middle" class="sec">sec</text>
<text transform="translate(256.0,257.8) rotate(-90)" x="0" y="2.8" text-anchor="middle" class="yl" textLength="47" lengthAdjust="spacingAndGlyphs">F fibrin (x10<tspan dy="-2.5" font-size="5">3</tspan><tspan dy="2.5">)</tspan></text>
<line x1="289.5" y1="308.2" x2="303" y2="308.4" stroke="#1a1a1a" stroke-width="1.8"/>
<polyline points="289.2,304.7 290.4,304.6 291.6,304.2 293.1,304.3 294.2,304.6 295.4,304.7 296.5,305.1 297.7,304.6 298.9,304.7 300.2,305.4 301.4,304.8 302.6,305.6 303.9,305.4 305.2,305.5 306.5,305.6 307.8,305.6 309.2,305.6 310.3,305.2 311.8,305.6 312.9,306.1 314.3,306.0 315.6,305.6 316.8,306.2 318.0,306.2 319.3,306.2 320.7,306.3 321.9,305.9 323.0,305.5 324.3,305.7 325.4,306.0 326.7,305.7 327.9,305.3 329.0,305.3 330.3,305.3 331.5,305.6 332.9,304.9 334.0,304.7 335.2,305.3 336.3,305.0 337.5,304.1 338.9,304.3 339.9,304.2 341.1,304.0 342.4,303.9 343.6,303.6 344.7,303.3 345.9,303.5 347.1,303.5 348.3,303.1 349.6,302.2 350.5,301.9 351.8,302.0 353.1,301.5 354.3,300.9 355.4,300.8 356.6,300.3 357.8,300.7 359.0,300.2 359.9,300.2 361.2,299.2 362.4,299.3 363.5,298.8 364.6,298.9 365.9,298.3 367.1,298.6 368.3,298.1 369.4,297.8 370.6,297.4 371.8,297.1 373.1,297.4 374.2,296.5 375.3,296.7 376.4,296.9 377.8,296.2 379.0,295.7 380.0,295.7 381.3,295.4 382.3,295.1 383.7,294.8 384.9,294.7 385.9,293.7 387.1,294.0 388.3,293.6 389.6,292.9 390.7,292.9 391.9,292.0 393.1,291.5 394.1,291.9 395.4,290.9 396.5,290.9 397.8,290.6 399.0,290.4 400.2,290.0 401.3,289.6 402.6,289.4 403.9,288.9 404.9,289.1 406.2,288.5 407.4,288.7 408.7,287.9 410.1,287.9 411.1,287.9 412.4,286.9 413.8,286.8 415.0,285.7 416.3,285.5 417.6,284.8 418.8,284.6 420.0,283.9 421.3,284.2 422.5,284.0 423.6,283.8 424.9,283.3 426.1,284.0 427.4,284.0 428.5,283.4 429.9,283.1 431.1,282.2 432.5,282.6 433.7,281.8 435.0,281.8 436.3,281.3 437.4,280.7 438.7,280.4 440.0,279.9 441.3,279.8 442.3,279.4 443.6,279.2 444.9,278.6 446.0,278.5 447.2,278.5 448.4,277.6 449.7,277.9 451.0,277.3 452.1,277.1 453.4,276.3 454.6,276.3 455.9,275.8 456.9,274.8 458.2,274.3 459.5,273.7 460.7,273.7 461.9,273.1 463.2,272.8 464.4,272.6 465.5,272.2 466.7,271.2 468.0,270.9 469.0,270.6 470.3,269.6 471.6,269.5 472.9,269.1 474.1,268.4 475.1,268.2 476.5,268.0 477.7,266.9 478.9,266.4 480.1,266.7 481.3,266.0 482.5,265.0 483.8,264.5 484.8,264.5 486.2,263.2" fill="none" stroke="#d2d2d2" stroke-width="3.8" stroke-linejoin="round" stroke-linecap="round"/>
<polyline points="289.3,303.2 290.6,303.1 291.8,303.3 292.9,303.4 294.1,303.4 295.3,303.0 296.6,303.7 297.8,303.1 299.1,303.7 300.4,303.2 301.7,302.9 302.9,303.1 303.9,302.9 305.2,303.5 306.4,303.3 307.7,303.1 309.0,302.8 310.2,303.0 311.6,303.2 312.8,303.4 314.2,303.2 315.6,303.6 316.7,303.5 318.1,303.8 319.5,303.3 320.7,303.1 321.8,303.5 323.0,303.2 324.1,303.3 325.6,303.1 326.8,302.8 328.0,302.9 329.2,302.7 330.5,303.1 331.6,302.7 332.7,302.7 334.0,302.6 335.3,301.6 336.4,301.7 337.5,301.2 338.7,300.5 339.9,300.8 341.1,300.0 342.4,300.1 343.5,299.3 344.8,299.3 346.1,298.8 346.9,297.7 348.0,297.3 349.1,295.9 349.9,295.3 350.9,294.7 352.0,293.8 352.9,293.2 354.0,292.7 355.1,292.1 356.0,291.4 357.0,290.2 358.1,290.1 359.1,289.5 360.0,288.4 361.1,288.3 362.4,287.5 363.7,287.2 365.0,286.8 366.1,286.6 367.4,286.5 368.5,286.1 369.7,284.7 370.7,284.0 371.8,283.0 373.0,283.0 374.0,281.7 375.0,280.5 376.0,279.8 377.1,278.7 377.8,278.5 378.9,276.8 379.9,275.8 380.8,275.7 381.8,274.7 382.6,273.6 383.5,273.2 384.5,272.4 385.4,271.1 386.5,271.0 387.6,270.1 388.8,269.3 389.7,268.3 390.9,267.1 392.0,266.6 393.4,267.0 395.0,266.8 396.4,267.2 397.8,266.7 398.9,266.9 400.2,267.1 401.5,268.1 403.0,267.5 404.4,267.5 405.7,267.2 407.3,267.1 408.4,266.2 409.4,265.9 410.5,265.4 411.8,264.5 412.8,264.4 413.8,262.9 414.6,262.0 415.8,261.7 416.5,260.9 417.9,260.0 418.8,259.1 419.9,257.9 421.3,257.7 422.3,257.2 423.4,256.4 424.7,255.0 425.7,254.7 426.8,254.6 428.0,254.1 429.1,254.1 430.3,253.3 431.6,253.3 432.7,253.0 434.1,252.4 435.4,251.7 436.7,251.6 438.0,251.9 439.4,251.4 440.9,251.3 442.1,251.0 443.4,251.1 444.6,250.7 446.0,250.3 447.4,250.3 448.7,250.3 450.1,249.8 451.2,249.6 452.4,249.4 453.5,249.0 454.7,249.0 455.9,248.7 457.2,247.8 458.2,248.1 459.5,247.1 460.5,247.2 461.7,246.9 462.9,247.1 464.3,247.2 465.4,246.8 466.7,246.2 468.0,246.8 469.0,246.6 470.3,246.0 471.7,246.2 472.7,245.7 474.0,245.4 475.1,245.2 476.5,244.8 477.7,245.0 478.8,244.7 480.1,244.7 481.2,245.0 482.6,244.8 483.7,244.0 484.8,244.3 486.1,243.5 487.4,243.7" fill="none" stroke="#3a3a3a" stroke-width="3.5" stroke-linejoin="round" stroke-linecap="round"/>
<polyline points="289.4,303.8 290.6,303.2 291.8,303.5 293.3,303.6 294.6,303.5 295.9,303.5 297.4,303.2 298.6,303.4 299.8,303.3 301.3,303.1 302.6,303.5 303.9,303.3 305.0,303.7 306.5,303.4 307.6,303.2 308.8,302.7 309.9,302.3 310.7,301.7 311.7,301.2 312.9,300.2 314.2,299.9 315.5,299.6 316.6,298.6 318.1,298.0 319.4,297.3 320.8,297.2 322.0,296.8 323.4,295.9 324.8,295.4 326.0,295.5 327.5,294.2 328.9,293.7 330.1,294.0 331.5,292.9 332.8,292.5 333.9,292.4 335.2,291.3 336.6,290.6 337.9,289.9 339.1,289.9 340.1,289.4 341.2,288.8 342.2,287.5 343.1,286.6 344.1,285.1 345.1,284.2 346.0,283.7 346.9,282.0 347.8,281.5 348.9,280.3 349.9,279.9 351.0,279.0 352.2,278.7 353.2,278.1 354.4,277.3 355.5,277.0 356.7,276.5 357.8,276.7 359.0,275.7 360.0,275.1 361.0,274.6 362.1,274.3 363.0,272.8 364.1,272.1 365.0,272.1 366.1,271.4 367.2,270.9 368.3,269.4 369.2,269.5 370.3,268.3 371.4,268.0 372.3,267.0 373.2,266.2 374.3,265.8 375.4,264.7 376.5,263.9 377.4,263.7 378.5,263.3 379.6,262.4 380.4,261.9 381.5,261.0 382.7,260.6 383.7,259.5 384.7,259.1 385.6,258.5 386.9,257.4 387.9,256.7 388.8,256.2 389.7,255.6 391.0,254.5 392.0,253.6 393.1,253.1 394.1,252.5 395.2,251.5 396.1,251.6 397.4,250.7 398.4,249.7 399.6,248.9 400.9,248.9 402.0,248.2 403.0,246.9 404.2,246.3 405.3,246.0 406.4,245.1 407.4,245.1 408.6,244.6 409.7,243.9 410.9,243.7 412.0,242.9 413.1,242.8 414.5,242.2 415.4,241.6 416.5,241.4 417.9,241.0 418.9,240.3 420.1,240.0 421.3,240.1 422.6,239.4 423.8,239.0 425.0,238.4 426.2,238.5 427.2,237.8 428.3,236.6 429.2,236.6 430.2,235.9 431.2,234.9 432.2,234.4 433.5,233.4 434.4,233.4 435.3,232.3 436.6,231.8 437.6,230.8 438.7,229.6 440.1,228.7 441.9,228.9 443.5,228.5 444.8,228.0 446.0,227.8 447.4,228.2 448.6,227.9 449.7,228.3 451.0,229.0 452.2,229.3 453.0,230.4 453.6,231.2 454.4,232.0 455.3,233.6 456.1,234.6 457.1,235.1 458.3,236.0 459.3,237.2 460.5,237.0 461.9,236.9 463.1,236.9 464.2,236.9 465.4,237.3 466.6,236.8 467.9,236.7 469.1,236.2 470.2,236.5 471.5,236.0 472.8,235.9 474.1,235.9 475.2,235.1 476.4,235.2 477.7,235.0 478.9,235.1 480.0,234.9 481.4,234.1 482.6,234.5 483.8,233.9 484.3,232.4 484.9,231.9 485.5,229.9 486.1,228.7 487.0,228.1 487.9,226.3 488.6,225.5" fill="none" stroke="#888888" stroke-width="3.8" stroke-linejoin="round" stroke-linecap="round"/>
<polyline points="289.4,303.0 290.8,303.0 292.1,302.6 293.1,301.6 294.8,301.5 296.2,300.5 297.2,300.4 298.5,300.7 299.5,300.0 300.9,300.8 302.5,300.0 303.8,300.2 305.1,300.5 306.2,301.8 307.6,301.1 309.2,302.5 310.2,303.1 311.5,303.2 312.7,304.1 314.2,304.0 315.6,302.9 316.7,302.6 317.9,302.3 319.3,302.8 320.5,302.8 322.0,302.1 323.6,302.1 324.7,302.0 326.2,301.2 327.6,301.0 328.9,302.0 329.9,301.7 331.4,301.3 332.6,300.4 334.0,301.1 335.4,300.4 337.0,300.1 338.1,298.8 339.5,298.9 340.5,297.7 341.9,296.8 342.7,295.8 344.3,294.1 346.0,294.1 346.8,293.2 347.8,291.4 348.7,290.3 349.5,289.3 350.7,289.6 351.3,287.3 352.6,287.0 353.3,285.8 354.3,285.9 355.2,284.5 355.9,284.4 356.8,283.1 358.1,281.8 359.0,282.1 359.9,281.1 360.4,279.5 361.3,278.9 362.1,277.2 363.2,276.6 364.0,274.9 364.3,274.1 364.8,272.4 365.3,271.0 365.9,271.0 366.6,269.3 367.0,267.7 367.3,266.5 368.8,268.2 369.8,269.0 371.1,269.8 372.4,269.9 373.7,269.9 375.0,269.6 376.5,269.6 377.5,269.6 379.0,268.8 379.8,269.3 381.0,270.1 382.2,270.8 383.4,271.4 384.4,271.7 385.5,271.0 386.3,270.1 387.5,268.9 388.5,268.3 389.6,266.8 390.7,266.3 392.3,264.9 393.4,264.3 394.7,262.6 395.9,262.2 396.8,262.9 397.8,264.4 398.1,263.2 398.3,261.2 398.8,260.8 399.1,259.7 399.7,257.7 400.3,256.8 400.9,255.5 401.8,254.4 402.5,253.1 403.4,252.4 404.4,251.8 405.2,251.3 406.0,249.7 407.1,248.8 408.3,249.4 409.6,248.3 410.9,248.3 411.9,249.6 412.9,251.4 413.9,251.6 414.9,250.6 415.6,248.7 416.6,248.0 417.9,247.9 418.9,246.4 420.2,245.3 420.6,245.1 421.5,243.5 422.3,243.5 422.9,241.9 423.6,240.5 424.6,239.5 425.3,239.1 425.9,237.0 426.8,236.2 427.3,234.7 428.2,233.8 428.7,232.6 429.4,231.6 430.2,229.9 431.1,229.5 431.7,228.1 432.7,227.7 433.8,225.8 434.4,224.8 435.6,224.0 437.0,223.9 438.5,223.6 440.1,222.6 441.3,222.2 442.5,221.6 443.6,221.3 444.9,220.4 446.0,221.5 446.6,221.7 447.8,223.4 448.9,223.6 449.5,224.7 450.0,225.6 450.4,226.9 450.6,228.5 450.9,229.0 451.3,229.9 451.4,232.0 451.6,233.3 452.2,233.9 452.4,235.6 453.1,235.9 453.4,237.7 453.6,236.2 453.7,235.3 454.1,233.4 454.1,233.2 454.5,231.8 454.4,230.7 455.0,229.9 455.0,227.3 455.2,226.3 455.3,226.1 455.4,223.8 455.4,223.6 455.5,222.0 455.8,220.1 456.5,218.8 456.8,218.0 458.0,217.6 459.5,218.5 460.8,217.7 461.8,217.9 463.1,218.2 464.5,218.0 465.3,218.8 466.6,219.0 467.9,219.7 469.1,219.6 470.2,219.2 471.4,219.2 472.8,218.0 473.9,218.0 475.3,217.5 476.5,217.8 477.5,217.5 478.7,216.5 479.2,215.4 479.5,214.5 479.5,213.8 479.7,212.4 479.9,210.4 481.5,212.4 482.4,212.9 483.9,214.8 485.0,215.3 486.2,214.6" fill="none" stroke="#0a0a0a" stroke-width="3.6" stroke-linejoin="round" stroke-linecap="round"/>
<line x1="365.5" y1="265.8" x2="365.5" y2="277.2" stroke="#0a0a0a" stroke-width="2.2" stroke-linecap="round"/>
<line x1="385.3" y1="267.7" x2="385.3" y2="276.2" stroke="#0a0a0a" stroke-width="2.2" stroke-linecap="round"/>
<line x1="423.2" y1="243.5" x2="423.2" y2="258" stroke="#0a0a0a" stroke-width="2.2" stroke-linecap="round"/>
<line x1="435.2" y1="226.6" x2="435.2" y2="250.8" stroke="#0a0a0a" stroke-width="2.2" stroke-linecap="round"/>
<line x1="452.4" y1="226" x2="452.4" y2="237" stroke="#0a0a0a" stroke-width="2.2" stroke-linecap="round"/>
<line x1="480.6" y1="209.5" x2="480.6" y2="216" stroke="#0a0a0a" stroke-width="2.2" stroke-linecap="round"/>
<line x1="485.6" y1="213" x2="485.6" y2="226" stroke="#0a0a0a" stroke-width="2.2" stroke-linecap="round"/>
<text x="485.5" y="208.5" text-anchor="middle" class="cl">1</text>
<text x="490.4" y="228.0" text-anchor="middle" class="cl">2</text>
<text x="489.5" y="253.5" text-anchor="middle" class="cl">3</text>
<text x="490.4" y="274.2" text-anchor="middle" class="cl">4</text>
<path d="M494.6,209.7 H496.4 V265.6 H494.6" fill="none" stroke="#8a8a8a" stroke-width="0.9"/>
<text transform="translate(504.5,245.8) rotate(-90)" x="0" y="0" text-anchor="middle" class="st">**</text>
</svg>
</body></html>
